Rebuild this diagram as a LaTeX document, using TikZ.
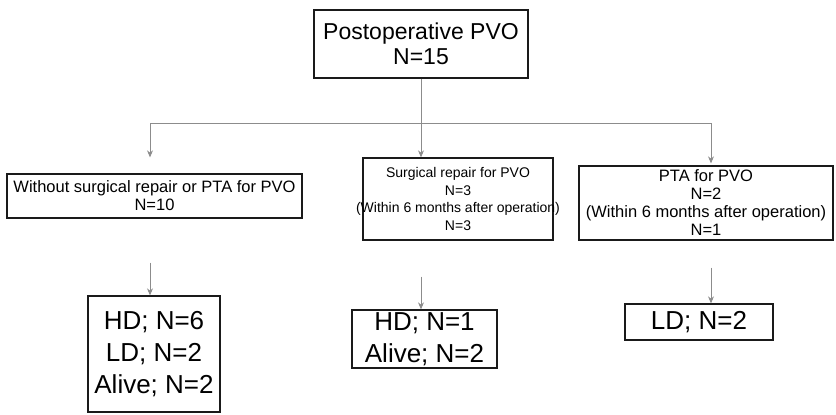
\documentclass[tikz,border=0pt]{standalone}
\usepackage{fontspec}
\setmainfont{Liberation Sans}
\usetikzlibrary{arrows.meta,positioning}
\definecolor{pvogrey}{HTML}{8C8C8C}
\definecolor{pvoline}{HTML}{1A1A1A}
\tikzset{
  box/.style={draw=pvoline,line width=1.3pt,fill=white,align=center,
              inner xsep=1pt,inner ysep=2pt},
  topbox/.style={box,font=\fontsize{23}{25}\selectfont,
                 minimum width=214pt,minimum height=68pt},
  midbox/.style={box,font=\fontsize{16.5}{18}\selectfont},
  endbox/.style={box,font=\fontsize{26}{32}\selectfont},
  ar/.style={-{Stealth[length=7pt,width=6pt]},line width=0.9pt,pvogrey},
  br/.style={line width=0.9pt,pvogrey},
}
\begin{document}
\begin{tikzpicture}[x=1pt,y=-1pt]
    \useasboundingbox (0,0) rectangle (836,415);
    \node[topbox] (pvo)  at (421,44) {Postoperative PVO\\N=15};
    \node[midbox,minimum width=295pt,minimum height=44pt] (none) at (154.5,196)
         {Without surgical repair or PTA for PVO\\N=10};
    \node[midbox,font=\fontsize{14}{17.5}\selectfont,inner xsep=-7pt,
          minimum width=190pt,minimum height=82pt] (surg) at (458,199)
         {Surgical repair for PVO\\N=3\\(Within 6 months after operation)\\N=3};
    \node[midbox,minimum width=254pt,minimum height=74pt] (pta) at (706,203)
         {PTA for PVO\\N=2\\(Within 6 months after operation)\\N=1};
    \node[endbox,minimum width=132pt,minimum height=116pt] (endl) at (154,354)
         {HD; N=6\\LD; N=2\\Alive; N=2};
    \node[endbox,minimum width=145pt,minimum height=58pt] (endm) at (424.5,339)
         {HD; N=1\\Alive; N=2};
    \node[endbox,minimum width=148pt,minimum height=36pt] (endr) at (699,322)
         {LD; N=2};
    \coordinate (lft) at (150,123);
    \coordinate (rgt) at (711,123);
    \draw[br] (lft) -- (rgt);
    \draw[ar] (pvo.south) -- (pvo.south |- surg.north);
    \draw[ar,shorten >=16pt] (lft) -- (lft |- none.north);
    \draw[ar,shorten >=2pt] (rgt) -- (rgt |- pta.north);
    \draw[ar,shorten <=44pt] (lft |- none.south) -- (lft |- endl.north);
    \draw[ar,shorten <=36pt] (pvo.south |- surg.south) -- (pvo.south |- endm.north);
    \draw[ar,shorten <=27pt] (rgt |- pta.south) -- (rgt |- endr.north);
  \end{tikzpicture}
\end{document}
